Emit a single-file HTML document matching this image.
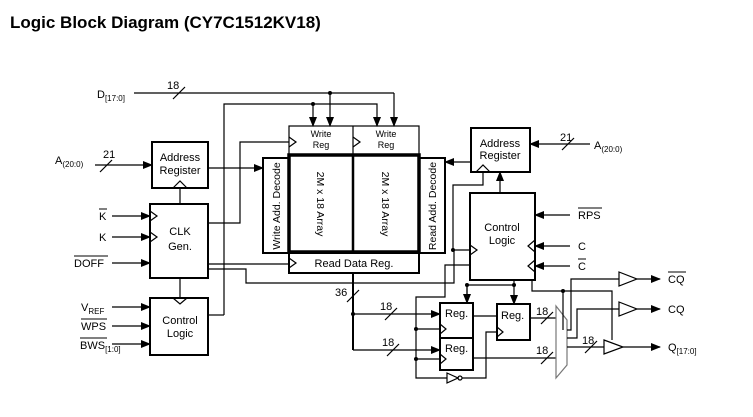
<!DOCTYPE html>
<html><head><meta charset="utf-8"><style>
body{margin:0;background:#fff;}
svg{display:block;font-family:"Liberation Sans",Arial,sans-serif;}
</style></head><body>
<svg width="753" height="417" viewBox="0 0 753 417" xmlns="http://www.w3.org/2000/svg">
<defs>
<marker id="a" markerWidth="10" markerHeight="8" refX="9" refY="4" orient="auto" markerUnits="userSpaceOnUse"><path d="M0,0L10,4L0,8z" fill="#000"/></marker>
</defs>
<text x="10" y="28" font-size="17" font-weight="bold">Logic Block Diagram (CY7C1512KV18)</text>
<g stroke="#000" fill="none" stroke-width="1.2">
<rect x="152" y="142" width="56" height="46" stroke-width="2"/>
<rect x="150" y="204" width="58" height="74" stroke-width="2"/>
<rect x="150" y="298" width="58" height="57" stroke-width="2"/>
<path d="M173,188L180,181L187,188"/>
<path d="M150,211L157,216L150,221M150,232L157,237L150,242"/>
<path d="M173,298L180,304L187,298"/>
<line x1="180" y1="204" x2="180" y2="188"/>
<line x1="180" y1="278" x2="180" y2="298"/>
<line x1="95" y1="165" x2="152" y2="165" marker-end="url(#a)"/>
<line x1="100" y1="172" x2="112" y2="160"/>
<line x1="112" y1="216" x2="150" y2="216" marker-end="url(#a)"/>
<line x1="112" y1="237" x2="150" y2="237" marker-end="url(#a)"/>
<line x1="112" y1="263" x2="150" y2="263" marker-end="url(#a)"/>
<line x1="112" y1="307" x2="150" y2="307" marker-end="url(#a)"/>
<line x1="112" y1="326" x2="150" y2="326" marker-end="url(#a)"/>
<line x1="112" y1="344" x2="150" y2="344" marker-end="url(#a)"/>
<line x1="134" y1="93" x2="394" y2="93"/>
<line x1="173" y1="99" x2="185" y2="87"/>
<line x1="330" y1="93" x2="330" y2="126" marker-end="url(#a)"/>
<line x1="394" y1="93" x2="394" y2="126" marker-end="url(#a)"/>
<polyline points="224,315 224,104 377,104 377,126" marker-end="url(#a)"/>
<line x1="208" y1="315" x2="224" y2="315"/>
<line x1="313" y1="104" x2="313" y2="126" marker-end="url(#a)"/>
<rect x="289" y="126" width="130" height="29"/>
<line x1="353" y1="126" x2="353" y2="155"/>
<rect x="289" y="155" width="130" height="97" stroke-width="3.5"/>
<line x1="353" y1="155" x2="353" y2="252" stroke-width="2.5"/>
<rect x="263" y="158" width="26" height="95" stroke-width="2"/>
<rect x="419" y="158" width="26" height="95" stroke-width="2"/>
<rect x="289" y="253" width="130" height="20" stroke-width="2"/>
<path d="M289,137L296,142L289,147M353,137L360,142L353,147M289,258L296,263L289,268"/>
<line x1="208" y1="168" x2="263" y2="168" marker-end="url(#a)"/>
<polyline points="208,223 240,223 240,142 289,142"/>
<line x1="208" y1="264" x2="289" y2="264"/>
<polyline points="208,269 246,269 246,283 454,283 454,250"/>
<rect x="471" y="128" width="59" height="44" stroke-width="2"/>
<rect x="470" y="193" width="65" height="87" stroke-width="2"/>
<path d="M476,172L483,165L490,172"/>
<path d="M470,245L477,250L470,255"/>
<path d="M535,240L528,246L535,252M535,260L528,266L535,272"/>
<line x1="590" y1="144" x2="530" y2="144" marker-end="url(#a)"/>
<line x1="562" y1="150" x2="574" y2="138"/>
<line x1="471" y1="162" x2="445" y2="162" marker-end="url(#a)"/>
<line x1="500" y1="193" x2="500" y2="172" marker-end="url(#a)"/>
<line x1="570" y1="215" x2="535" y2="215" marker-end="url(#a)"/>
<line x1="570" y1="246" x2="535" y2="246" marker-end="url(#a)"/>
<line x1="570" y1="266" x2="535" y2="266" marker-end="url(#a)"/>
<polyline points="483,172 483,185 453,185 453,250 470,250"/>
<polyline points="470,265 445,265 445,297 416,297 416,378 447,378"/>
<path d="M447,373L458,378L447,383z"/>
<circle cx="460" cy="378" r="2"/>
<polyline points="462,378 486,378 486,332 497,332"/>
<line x1="416" y1="329" x2="440" y2="329"/>
<line x1="416" y1="359" x2="440" y2="359"/>
<rect x="440" y="303" width="33" height="35" stroke-width="2"/>
<rect x="440" y="338" width="33" height="32" stroke-width="2"/>
<rect x="497" y="304" width="33" height="36" stroke-width="2"/>
<path d="M440,324L446,329L440,334M440,354L446,359L440,364M497,327L503,332L497,337"/>
<polyline points="467,303 467,285 514,285"/>
<line x1="467" y1="285" x2="467" y2="303" marker-end="url(#a)"/>
<line x1="514" y1="280" x2="514" y2="304" marker-end="url(#a)"/>
<line x1="353" y1="273" x2="353" y2="350" stroke-width="2"/>
<line x1="347" y1="302" x2="359" y2="290"/>
<line x1="353" y1="314" x2="440" y2="314" marker-end="url(#a)"/>
<line x1="353" y1="350" x2="440" y2="350" marker-end="url(#a)"/>
<line x1="385" y1="320" x2="397" y2="308"/>
<line x1="387" y1="356" x2="399" y2="344"/>
<line x1="473" y1="316" x2="497" y2="316"/>
<line x1="530" y1="318" x2="556" y2="318"/>
<line x1="473" y1="358" x2="556" y2="358"/>
<line x1="541" y1="324" x2="553" y2="312"/>
<line x1="541" y1="364" x2="553" y2="352"/>
<path d="M556,306L567,320L567,365L556,378z" stroke="#777"/>
<polyline points="532,280 532,291 612,291 612,340"/>
<line x1="563" y1="291" x2="563" y2="330"/>
<polyline points="567,330 571,330 571,279 619,279"/>
<polyline points="567,338 577,338 577,309 619,309"/>
<line x1="567" y1="347" x2="604" y2="347"/>
<line x1="585" y1="353" x2="597" y2="341"/>
<path d="M619,272L637,279L619,286z M619,302L637,309L619,316z M604,340L623,347L604,354z"/>
<line x1="637" y1="279" x2="660" y2="279" marker-end="url(#a)"/>
<line x1="637" y1="309" x2="660" y2="309" marker-end="url(#a)"/>
<line x1="623" y1="347" x2="660" y2="347" marker-end="url(#a)"/>
</g>
<g fill="#000">
<circle cx="330" cy="93" r="2"/><circle cx="313" cy="104" r="2"/>
<circle cx="453" cy="250" r="2"/><circle cx="467" cy="285" r="2"/><circle cx="514" cy="285" r="2"/>
<circle cx="353" cy="314" r="2"/><circle cx="416" cy="329" r="2"/><circle cx="416" cy="359" r="2"/>
<circle cx="563" cy="291" r="2"/>
</g>
<g font-size="11">
<text x="97" y="98">D<tspan font-size="8" dy="3">[17:0]</tspan></text>
<text x="167" y="89">18</text>
<text x="55" y="164">A<tspan font-size="8" dy="3">(20:0)</tspan></text>
<text x="103" y="158">21</text>
<text x="180" y="161" text-anchor="middle">Address</text>
<text x="180" y="174" text-anchor="middle">Register</text>
<text x="180" y="235" text-anchor="middle">CLK</text>
<text x="180" y="250" text-anchor="middle">Gen.</text>
<text x="180" y="324" text-anchor="middle">Control</text>
<text x="180" y="337" text-anchor="middle">Logic</text>
<text x="99" y="220">K</text><line x1="99" y1="209" x2="107" y2="209" stroke="#000"/>
<text x="99" y="241">K</text>
<text x="74" y="267">DOFF</text><line x1="74" y1="256" x2="108" y2="256" stroke="#000"/>
<text x="81" y="311">V<tspan font-size="8" dy="3">REF</tspan></text>
<text x="81" y="330">WPS</text><line x1="81" y1="319" x2="107" y2="319" stroke="#000"/>
<text x="80" y="349">BWS<tspan font-size="8" dy="3">[1:0]</tspan></text><line x1="80" y1="338" x2="107" y2="338" stroke="#000"/>
<text x="594" y="149">A<tspan font-size="8" dy="3">(20:0)</tspan></text>
<text x="560" y="141">21</text>
<text x="500" y="147" text-anchor="middle">Address</text>
<text x="500" y="159" text-anchor="middle">Register</text>
<text x="502" y="231" text-anchor="middle">Control</text>
<text x="502" y="244" text-anchor="middle">Logic</text>
<text x="578" y="219">RPS</text><line x1="578" y1="208" x2="602" y2="208" stroke="#000"/>
<text x="578" y="250">C</text>
<text x="578" y="270">C</text><line x1="578" y1="259" x2="586" y2="259" stroke="#000"/>
<text x="335" y="296">36</text>
<text x="380" y="310">18</text>
<text x="382" y="346">18</text>
<text x="536" y="315">18</text>
<text x="536" y="354">18</text>
<text x="582" y="344">18</text>
<text x="668" y="283">CQ</text><line x1="668" y1="272" x2="686" y2="272" stroke="#000"/>
<text x="668" y="313">CQ</text>
<text x="668" y="351">Q<tspan font-size="8" dy="3">[17:0]</tspan></text>
<text x="445" y="317">Reg.</text>
<text x="445" y="352">Reg.</text>
<text x="501" y="319">Reg.</text>
<text x="354" y="267" text-anchor="middle">Read Data Reg.</text>
</g>
<g font-size="9" text-anchor="middle">
<text x="321" y="137">Write</text><text x="321" y="148">Reg</text>
<text x="386" y="137">Write</text><text x="386" y="148">Reg</text>
</g>
<g font-size="10.5" text-anchor="middle">
<text transform="translate(276,206) rotate(-90)" dy="4">Write Add. Decode</text>
<text transform="translate(432,206) rotate(-90)" dy="4">Read Add. Decode</text>
<text transform="translate(321,204) rotate(90)" dy="4">2M x 18 Array</text>
<text transform="translate(386,204) rotate(90)" dy="4">2M x 18 Array</text>
</g>
</svg>
</body></html>
